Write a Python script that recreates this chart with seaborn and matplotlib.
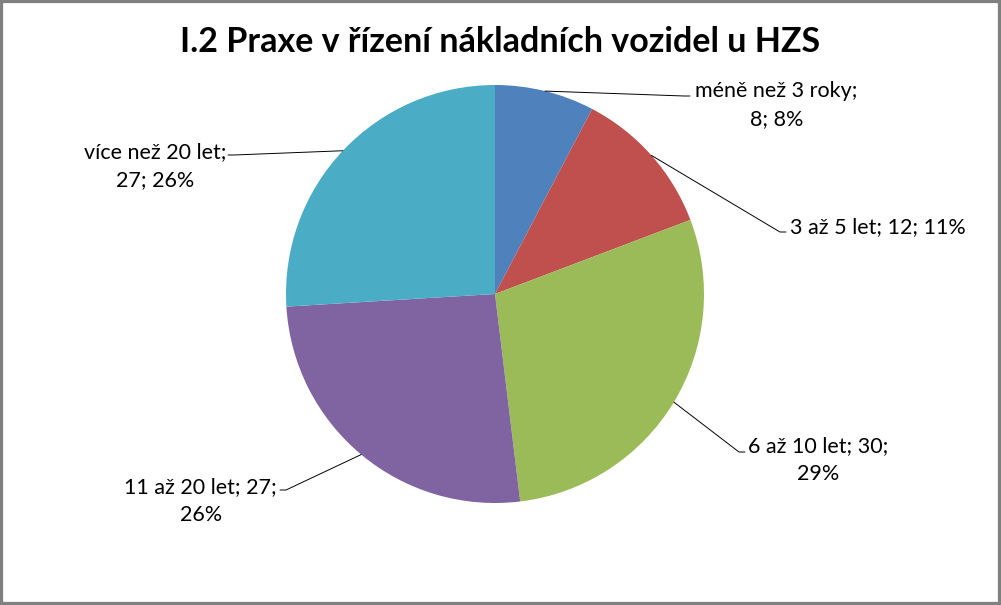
import numpy as np
import matplotlib.pyplot as plt
import seaborn as sns

# data
categories = ["méně než 3 roky", "3 až 5 let", "6 až 10 let", "11 až 20 let", "více než 20 let"]
counts = [8, 12, 30, 27, 27]
percent_labels = ["8%", "11%", "29%", "26%", "26%"]
title = "I.2 Praxe v řízení nákladních vozidel u HZS"

colors = ["#4F81BD", "#C0504D", "#9BBB59", "#8064A2", "#4BACC6"]

# label layout (pixels, y from top): text anchor, leader end, line break after part n
text_pos = [(695, 105, "left"), (790, 227, "left"), (748, 460, "left"),
            (277, 501, "right"), (226, 166, "right")]
leader_end = [(690, 96), (786, 232), (745, 452), (280, 490), (228, 155)]
breaks = [0, None, 1, 1, 0]

sns.set_theme(style="white")
plt.rcParams["font.family"] = ["Lato", "DejaVu Sans"]

W, H = 1001, 605
CX, CY, R = 495, 294, 209

fig = plt.figure(figsize=(W / 100, H / 100), dpi=100)
fig.patch.set_facecolor("white")
ax = fig.add_axes([(CX - R) / W, (H - CY - R) / H, 2 * R / W, 2 * R / H])

wedges, _ = ax.pie(counts, colors=colors, startangle=90, counterclock=False,
                   radius=1, wedgeprops=dict(linewidth=0))
ax.set_xlim(-1, 1)
ax.set_ylim(-1, 1)
ax.axis("off")


def to_data(px, py):
    return (px - CX) / R, (CY - py) / R


for i, w in enumerate(wedges):
    mid = np.deg2rad((w.theta1 + w.theta2) / 2)
    x0, y0 = np.cos(mid), np.sin(mid)
    ex, ey = to_data(*leader_end[i])
    side = 1 if text_pos[i][2] == "left" else -1
    ax.plot([x0, ex - side * 6 / R, ex], [y0, ey, ey], color="black",
            lw=0.7, clip_on=False)

    parts = [categories[i], str(counts[i]), percent_labels[i]]
    s = ""
    for j, p in enumerate(parts):
        s += p
        if j < len(parts) - 1:
            s += ";\n" if breaks[i] == j else "; "
    tx, ty = to_data(text_pos[i][0], text_pos[i][1])
    ax.text(tx, ty, s, ha=text_pos[i][2], va="center", multialignment="center",
            fontsize=15.5, linespacing=1.5, color="black", clip_on=False)

fig.text(500 / W, 1 - 52 / H, title, ha="center", va="baseline",
         fontsize=24.5, fontweight="bold", color="black")

fig.patches.append(plt.Rectangle((0, 0), 1, 1, transform=fig.transFigure,
                                 fill=False, edgecolor="#808080", linewidth=4.5))

fig.savefig("out.png", dpi=100)
